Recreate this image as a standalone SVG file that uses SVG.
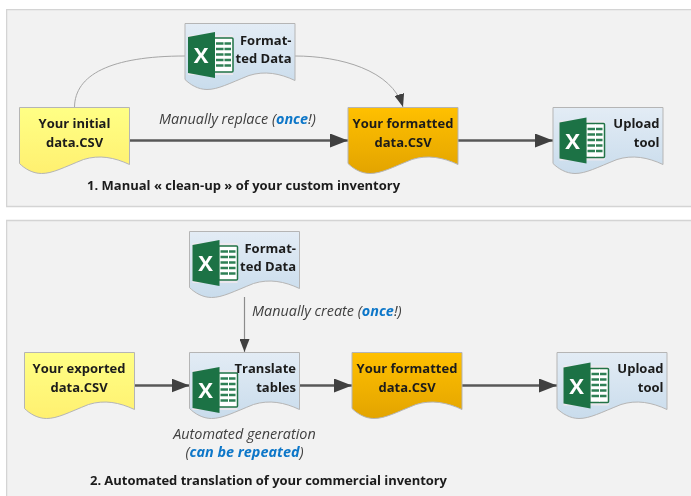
<svg xmlns="http://www.w3.org/2000/svg" xmlns:xlink="http://www.w3.org/1999/xlink" width="691" height="496" viewBox="0 0 691 496">
<style>
.panel{fill:#f2f2f2;stroke:#d4d4d4;stroke-width:1.5}
.doc{stroke:#b5b5b5;stroke-width:1}
.t{font-family:"Open Sans","Liberation Sans",sans-serif;font-size:13px;font-weight:700;fill:#1a1a1a}
.m{text-anchor:middle}
.e{text-anchor:end}
.i{font-family:"Open Sans","Liberation Sans",sans-serif;font-size:14.400px;font-style:italic;fill:#404040}
.b{fill:#0b76c8;font-weight:700}
.thick{fill:none;stroke:#595959;stroke-width:2.500}
.thin{fill:none;stroke:#a6a6a6;stroke-width:1}
.thinv{fill:none;stroke:#8c8c8c;stroke-width:1.200}
.x{font-family:"Open Sans","Liberation Sans",sans-serif;font-size:22px;font-weight:700;fill:#fff}
</style>
<defs>
<filter id="soft" x="0" y="0" width="100%" height="100%"><feGaussianBlur stdDeviation="0.400"/></filter>
<linearGradient id="gy" x1="0" y1="0" x2="0" y2="1"><stop offset="0" stop-color="#ffff85"/><stop offset="1" stop-color="#fff070"/></linearGradient>
<linearGradient id="go" x1="0" y1="0" x2="0" y2="1"><stop offset="0" stop-color="#ffc000"/><stop offset="1" stop-color="#e3a400"/></linearGradient>
<linearGradient id="gb" x1="0" y1="0" x2="0" y2="1"><stop offset="0" stop-color="#e3ecf5"/><stop offset="1" stop-color="#c9dcec"/></linearGradient>
<path id="shape" d="M0 0H110V57C95 50 80 47 64 52C44 60 33 66 22 66C13 66 5 61 0 56Z"/>
<marker id="ah" markerUnits="userSpaceOnUse" markerWidth="18" markerHeight="14" refX="18" refY="7" orient="auto"><path d="M0 0L18 7L0 14Z" fill="#404040"/></marker>
<marker id="as" markerUnits="userSpaceOnUse" markerWidth="13" markerHeight="10" refX="13" refY="5" orient="auto"><path d="M0 0L13 5L0 10Z" fill="#404040"/></marker>
<g id="xl">
<rect x="0" y="3" width="45" height="40" fill="#f1e9ee" opacity=".8"/>
<rect x="26" y="6" width="19" height="34" rx="1" fill="#fff" stroke="#217346" stroke-width="1.500"/>
<path d="M28 11.500H43M28 17H43M28 22.500H43M28 28H43M28 33.500H43" stroke="#2f8055" stroke-width="2.500"/>
<path d="M36 7V39" stroke="#fff" stroke-width="1"/>
<path d="M0 5L27 0V46L0 41Z" fill="#1f7244"/>
<text class="x" x="13" y="31" text-anchor="middle">X</text>
</g>
</defs>
<rect width="691" height="496" fill="#fff"/>
<g filter="url(#soft)">
<rect class="panel" x="6.500" y="9.500" width="700" height="197"/>
<rect class="panel" x="6.500" y="220.500" width="700" height="290"/>

<g id="connectors">
<path class="thin" d="M74.500 107C75 75 110 56 185 56"/>
<path class="thin" marker-end="url(#as)" d="M295 56C340 56 392 70 403 107"/>
<path class="thick" marker-end="url(#ah)" d="M129.500 140.500H348"/>
<path class="thick" marker-end="url(#ah)" d="M458 140.500H553"/>
<path class="thinv" marker-end="url(#as)" d="M244.500 297V352"/>
<path class="thick" marker-end="url(#ah)" d="M134 385.500H189.500"/>
<path class="thick" marker-end="url(#ah)" d="M299.500 385.500H352"/>
<path class="thick" marker-end="url(#ah)" d="M462 385.500H557"/>
</g>

<g id="node-initial">
<use href="#shape" x="19.500" y="107.500" fill="url(#gy)" class="doc"/>
<text class="t m" x="74.500" y="127.500">Your initial</text>
<text class="t m" x="74.500" y="146.500">data.CSV</text>
</g>
<g id="node-formatted-data-1">
<use href="#shape" x="185" y="23.500" fill="url(#gb)" class="doc"/>
<use href="#xl" x="188" y="32"/>
<text class="t e" x="291.500" y="44.500">Format-</text>
<text class="t e" x="291.500" y="63">ted Data</text>
</g>
<g id="node-formatted-csv-1">
<use href="#shape" x="348" y="107.500" fill="url(#go)" class="doc"/>
<text class="t m" x="403" y="127.500">Your formatted</text>
<text class="t m" x="403" y="146.500">data.CSV</text>
</g>
<g id="node-upload-1">
<use href="#shape" x="553" y="107.500" fill="url(#gb)" class="doc"/>
<use href="#xl" x="559.500" y="117.500"/>
<text class="t e" x="659.500" y="127.500">Upload</text>
<text class="t e" x="659.500" y="146.500">tool</text>
</g>
<text class="i" x="159" y="124">Manually replace (<tspan class="b">once</tspan>!)</text>
<text class="t" x="87" y="190">1. Manual « clean-up » of your custom inventory</text>

<g id="node-formatted-data-2">
<use href="#shape" x="189.500" y="231.500" fill="url(#gb)" class="doc"/>
<use href="#xl" x="192.500" y="240"/>
<text class="t e" x="296" y="252.500">Format-</text>
<text class="t e" x="296" y="271">ted Data</text>
</g>
<g id="node-exported">
<use href="#shape" x="24.500" y="352.500" fill="url(#gy)" class="doc"/>
<text class="t m" x="79" y="372.500">Your exported</text>
<text class="t m" x="79" y="391.500">data.CSV</text>
</g>
<g id="node-translate">
<use href="#shape" x="189.500" y="352.500" fill="url(#gb)" class="doc"/>
<use href="#xl" x="192.500" y="367"/>
<text class="t e" x="296" y="372.500">Translate</text>
<text class="t e" x="296" y="391.500">tables</text>
</g>
<g id="node-formatted-csv-2">
<use href="#shape" x="352" y="352.500" fill="url(#go)" class="doc"/>
<text class="t m" x="407" y="372.500">Your formatted</text>
<text class="t m" x="407" y="391.500">data.CSV</text>
</g>
<g id="node-upload-2">
<use href="#shape" x="557" y="352.500" fill="url(#gb)" class="doc"/>
<use href="#xl" x="563.500" y="362.500"/>
<text class="t e" x="663.500" y="372.500">Upload</text>
<text class="t e" x="663.500" y="391.500">tool</text>
</g>
<text class="i" x="252" y="316">Manually create (<tspan class="b">once</tspan>!)</text>
<text class="i m" x="244.500" y="439">Automated generation</text>
<text class="i m" x="244.500" y="457">(<tspan class="b">can be repeated</tspan>)</text>
<text class="t" x="90" y="485" textLength="357" lengthAdjust="spacing">2. Automated translation of your commercial inventory</text>
</g>
</svg>
